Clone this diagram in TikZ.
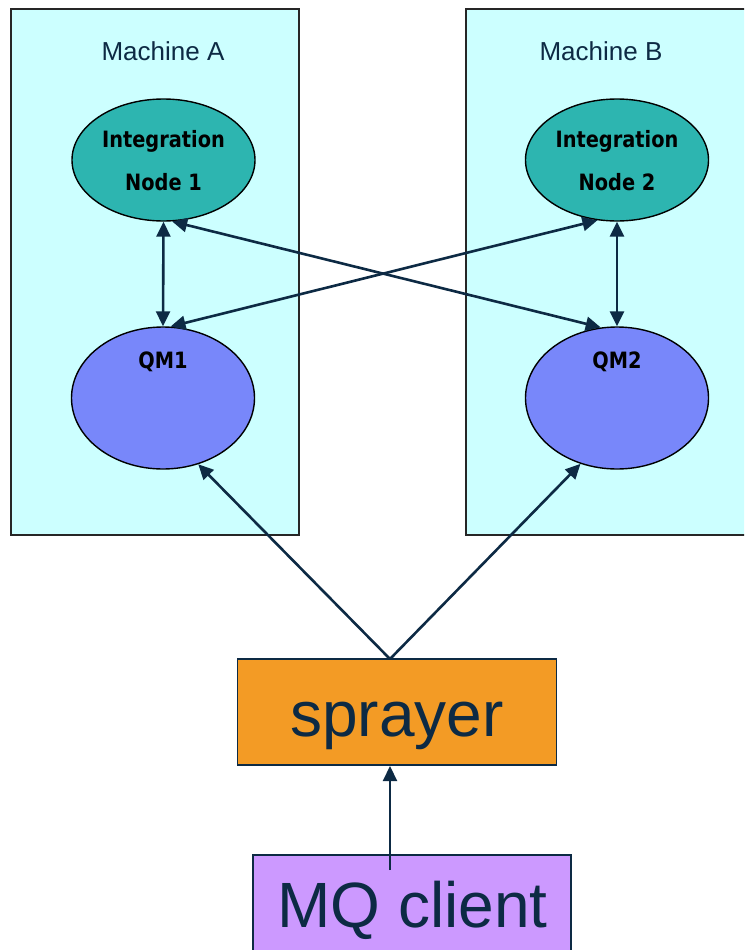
\documentclass[tikz,border=0pt]{standalone}
\usepackage{fontspec}
\setmainfont{Liberation Sans}
\newfontfamily\lblfont[FakeStretch=0.86]{DejaVu Sans}
\usetikzlibrary{shapes.geometric,arrows.meta}
\definecolor{navy}{HTML}{0D2A44}
\definecolor{machinefill}{HTML}{CCFFFF}
\definecolor{brokerfill}{HTML}{2DB5B0}
\definecolor{qmfill}{HTML}{7887FA}
\definecolor{sprayfill}{HTML}{F39B25}
\definecolor{clientfill}{HTML}{CC99FF}
\tikzset{
  machine/.style={draw=black!85, line width=1.6pt, fill=machinefill, rectangle, inner sep=0pt},
  broker/.style={draw=black, line width=1.4pt, fill=brokerfill, ellipse, inner sep=0pt,
                 minimum width=183pt, minimum height=122pt},
  qmgr/.style={draw=black, line width=1.4pt, fill=qmfill, ellipse, inner sep=0pt,
               minimum width=183pt, minimum height=142pt},
  boxnode/.style={draw=navy, line width=1.6pt, rectangle, inner sep=0pt},
  title/.style={anchor=base, text=navy, font=\fontsize{26}{28}\selectfont},
  blabel/.style={anchor=base, text=black, font=\lblfont\bfseries\fontsize{22.5}{24}\selectfont},
  biglabel/.style={anchor=base, text=navy, font=\fontsize{64}{66}\selectfont},
  tip/.style={Triangle[length=15pt,width=14pt]},
  link/.style={draw=navy, line width=2.6pt, -{Triangle[length=15pt,width=14pt]}},
  dlink/.style={draw=navy, line width=2.6pt, {Triangle[length=15pt,width=14pt]}-{Triangle[length=15pt,width=14pt]}},
  feed/.style={draw=navy, line width=2.2pt, -{Triangle[length=15pt,width=14pt]}}
}
\begin{document}
\begin{tikzpicture}[x=1pt,y=-1pt]
\useasboundingbox (0,0) rectangle (744,950);
\clip (0,0) rectangle (744,950);

% the two machines
\node[machine, minimum width=288pt, minimum height=526pt] (ma) at (155,272) {};
\node[machine, minimum width=294pt, minimum height=526pt] (mb) at (613,272) {};
\node[title] (mat) at (163,60.5) {Machine A};
\node[title] (mbt) at (601,60.5) {Machine B};

% integration nodes
\node[broker] (in1) at (163.5,160) {};
\node[broker] (in2) at (617,160) {};
\node[blabel] (in1a) at (163.5,147) {Integration};
\node[blabel] (in1b) at (163.5,190) {Node 1};
\node[blabel] (in2a) at (617,147) {Integration};
\node[blabel] (in2b) at (617,190) {Node 2};

% queue managers
\node[qmgr] (qm1) at (163,398) {};
\node[qmgr] (qm2) at (617,398) {};
\node[blabel] (qm1t) at (163,368) {QM1};
\node[blabel] (qm2t) at (617,368) {QM2};

% sprayer and client
\node[boxnode, fill=sprayfill, minimum width=319pt, minimum height=106pt] (spr) at (397,712) {};
\node[biglabel] (sprt) at (397,736.5) {sprayer};
\node[boxnode, fill=clientfill, minimum width=318pt, minimum height=140pt] (mq) at (412,925) {};
\node[biglabel] (mqt) at (412.5,927) {MQ client};

\coordinate (fork) at (390,659);
\coordinate (feedtop) at (390,766);
\coordinate (feedstart) at (390,870);

% connections
\draw[dlink] (in1.south) -- (qm1.north);
\draw[dlink] (in2.south) -- (qm2.north);
\draw[dlink] (in1.-82) -- (qm2.103.5);
\draw[dlink] (qm1.84) -- (in2.-108);
\draw[link] (fork) -- (qm1.-62);
\draw[link] (fork) -- (qm2.-119);
\draw[feed] (feedstart) -- (feedtop);
\end{tikzpicture}
\end{document}
